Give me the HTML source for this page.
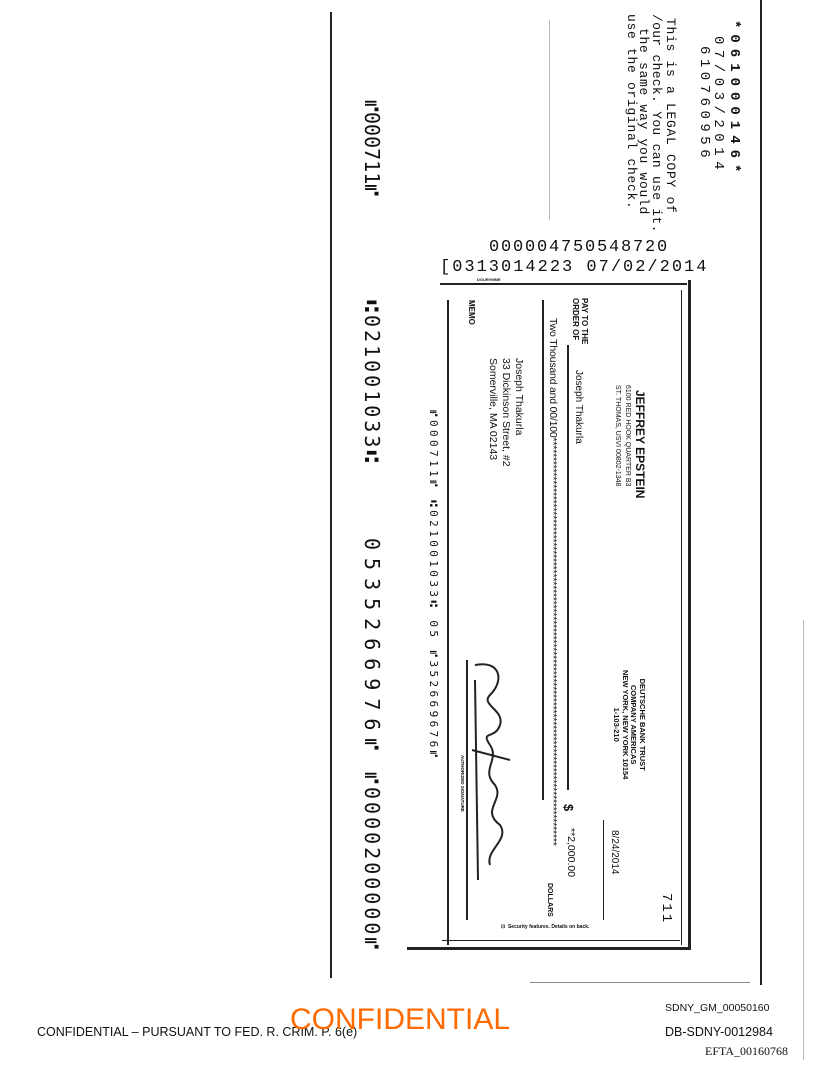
<!DOCTYPE html>
<html><head><meta charset="utf-8"><style>
html,body{margin:0;padding:0;background:#fff;}
body{width:816px;height:1073px;position:relative;overflow:hidden;font-family:"Liberation Sans",sans-serif;color:#111;}
.r{position:absolute;transform:rotate(90deg);transform-origin:0 0;white-space:nowrap;line-height:1;}
.m{font-family:"Liberation Mono","DejaVu Sans Mono",monospace;}
.l{position:absolute;background:#222;}
.h{position:absolute;white-space:nowrap;line-height:1;}
</style></head><body>
<!-- page lines -->
<div class="l" style="left:330px;top:12px;width:1.5px;height:966px;"></div>
<div class="l" style="left:760px;top:0;width:1.5px;height:985px;"></div>
<div class="l" style="left:803px;top:620px;width:1px;height:440px;background:#bbb;"></div>
<div class="l" style="left:530px;top:982px;width:220px;height:1px;background:#888;"></div>
<div class="l" style="left:549px;top:20px;width:1px;height:200px;background:#bbb;"></div>

<!-- header text -->
<div class="r m" style="left:741px;top:20px;font-size:14px;letter-spacing:6px;font-weight:bold;">*061000146*</div>
<div class="r m" style="left:725px;top:36px;font-size:14px;letter-spacing:5.5px;">07/03/2014</div>
<div class="r m" style="left:711px;top:46px;font-size:14px;letter-spacing:4.5px;">610760956</div>
<div class="r m" style="left:677px;top:18px;font-size:13px;letter-spacing:0.7px;">This is a LEGAL COPY of</div>
<div class="r m" style="left:663px;top:14px;font-size:13px;letter-spacing:0.3px;">/our check. You can use it.</div>
<div class="r m" style="left:650px;top:28px;font-size:13px;letter-spacing:0.7px;">the same way you would</div>
<div class="r m" style="left:638px;top:14px;font-size:13px;letter-spacing:0.7px;">use the original check.</div>

<!-- horizontal numbers -->
<div class="h m" style="left:489px;top:239px;font-size:17px;letter-spacing:1.8px;">000004750548720</div>
<div class="h m" style="left:440px;top:259px;font-size:17px;letter-spacing:2px;">[0313014223 07/02/2014</div>
<div class="h" style="left:477px;top:278px;font-size:4px;font-weight:bold;">DOURYMME</div>

<!-- check borders -->
<div class="l" style="left:440px;top:283px;width:247px;height:1.5px;"></div>
<div class="l" style="left:688px;top:280px;width:3px;height:670px;"></div>
<div class="l" style="left:681px;top:290px;width:1px;height:655px;"></div>
<div class="l" style="left:447px;top:300px;width:1.5px;height:645px;"></div>
<div class="l" style="left:407px;top:947px;width:284px;height:3px;"></div>
<div class="l" style="left:442px;top:940px;width:238px;height:1px;"></div>
<div class="l" style="left:542px;top:300px;width:1.5px;height:500px;"></div>
<div class="l" style="left:567px;top:345px;width:1.5px;height:445px;"></div>
<div class="l" style="left:603px;top:820px;width:1px;height:100px;"></div>
<div class="l" style="left:466px;top:660px;width:1.5px;height:260px;"></div>

<!-- check text -->
<div class="r" style="left:475px;top:300px;font-size:8px;font-weight:bold;">MEMO</div>
<div class="r" style="left:589px;top:298px;font-size:8px;font-weight:bold;line-height:9px;">PAY TO THE<br>ORDER OF</div>
<div class="r" style="left:583px;top:370px;font-size:10px;">Joseph Thakurla</div>
<div class="r" style="left:558px;top:318px;font-size:10.5px;letter-spacing:-0.2px;">Two Thousand and 00/100*********************************************************************************************************</div>
<div class="r" style="left:646px;top:390px;font-size:12px;font-weight:bold;">JEFFREY EPSTEIN</div>
<div class="r" style="left:631px;top:385px;font-size:7px;">6100 RED HOOK QUARTER B3</div>
<div class="r" style="left:621px;top:385px;font-size:7px;">ST. THOMAS, USVI 00802-1348</div>
<div class="r" style="left:525px;top:358px;font-size:10.5px;line-height:13px;">Joseph Thakurla<br>33 Dickinson Street, #2<br>Somerville, MA 02143</div>
<div class="r" style="left:439px;top:410px;font-size:11px;font-family:'DejaVu Sans Mono',monospace;letter-spacing:3.4px;">⑈000711⑈ ⑆021001033⑆ 05 ⑈352669676⑈</div>
<div class="r" style="left:646px;top:670px;font-size:7.5px;font-weight:bold;line-height:8.5px;text-align:center;">DEUTSCHE BANK TRUST<br>COMPANY AMERICAS<br>NEW YORK, NEW YORK 10154<br>1-103-210</div>
<div class="r" style="left:575px;top:804px;font-size:13px;font-weight:bold;">$</div>
<div class="r" style="left:576px;top:828px;font-size:10.5px;">**2,000.00</div>
<div class="r" style="left:619px;top:830px;font-size:10px;">8/24/2014</div>
<div class="r m" style="left:673px;top:893px;font-size:14px;letter-spacing:2px;">711</div>
<div class="r" style="left:553px;top:883px;font-size:7px;font-weight:bold;">DOLLARS</div>
<div class="h" style="left:501px;top:925px;font-size:5px;font-weight:bold;">⊡ &nbsp;Security features. Details on back.</div>
<div class="r" style="left:464px;top:755px;font-size:4.5px;font-weight:bold;">AUTHORIZED SIGNATURE</div>
<svg style="position:absolute;left:460px;top:650px" width="60" height="240" viewBox="0 0 60 240">
<path d="M15 15 C40 10 45 30 30 45 C20 55 45 60 40 75 C35 90 20 80 30 95 C40 110 20 120 35 135 C45 150 20 160 40 175 C50 190 25 200 30 215 M12 100 L50 110 M15 30 L18 230" fill="none" stroke="#222" stroke-width="2"/>
</svg>

<!-- big micr left -->
<div class="r" style="left:382px;top:100px;font-size:20px;font-family:'DejaVu Sans Mono',monospace;letter-spacing:0px;">⑈000711⑈</div>
<div class="r" style="left:382px;top:300px;font-size:20px;font-family:'DejaVu Sans Mono',monospace;letter-spacing:3px;">⑆021001033⑆</div>
<div class="r" style="left:382px;top:538px;font-size:20px;font-family:'DejaVu Sans Mono',monospace;letter-spacing:8px;">0535266976⑈</div>
<div class="r" style="left:382px;top:772px;font-size:20px;font-family:'DejaVu Sans Mono',monospace;letter-spacing:3px;">⑈0000200000⑈</div>

<!-- footer -->
<div class="h" style="left:665px;top:1003px;font-size:10.5px;">SDNY_GM_00050160</div>
<div class="h" style="left:37px;top:1026px;font-size:12.5px;">CONFIDENTIAL – PURSUANT TO FED. R. CRIM. P. 6(e)</div>
<div class="h" style="left:290px;top:1005px;font-size:30px;color:#ff6a00;">CONFIDENTIAL</div>
<div class="h" style="left:665px;top:1026px;font-size:12.5px;">DB-SDNY-0012984</div>
<div class="h" style="left:705px;top:1045px;font-size:12px;font-family:'Liberation Serif',serif;">EFTA_00160768</div>
</body></html>
